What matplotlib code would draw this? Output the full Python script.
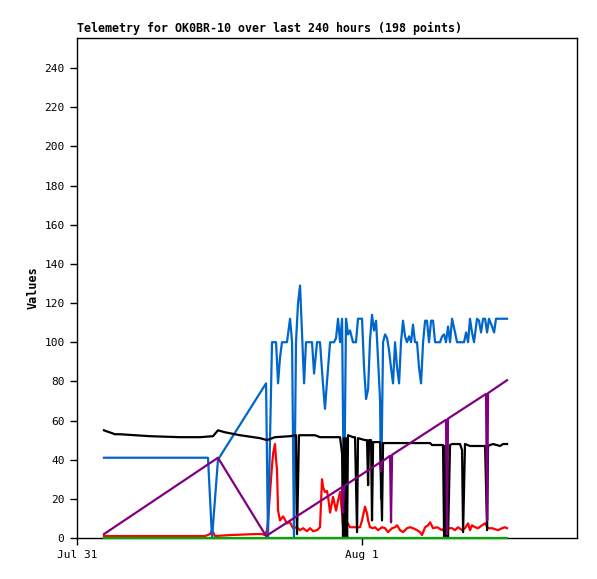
import matplotlib
matplotlib.use("Agg")
import matplotlib.pyplot as plt

# hours since Jul 31 00:00
blue_hours = [2.27, 11.03, 11.37, 11.87, 15.92, 16.08, 16.42, 16.76, 16.93, 17.09,
              17.26, 17.68, 17.94, 18.11, 18.27, 18.44, 18.61, 18.78, 18.95, 19.12,
              19.28, 19.79, 19.96, 20.21, 20.46, 20.72, 20.88, 21.05, 21.31, 21.64,
              21.81, 21.98, 22.15, 22.32, 22.48, 22.65, 22.82, 22.99, 23.24, 23.49,
              23.66, 24.00, 24.17, 24.34, 24.51, 24.67, 24.84, 25.01, 25.18, 25.35,
              25.52, 25.60, 25.77, 25.94, 26.11, 26.27, 26.44, 26.61, 26.78, 26.95,
              27.12, 27.28, 27.45, 27.62, 27.79, 27.96, 28.13, 28.29, 28.46, 28.63,
              28.80, 28.97, 29.14, 29.31, 29.47, 29.64, 29.81, 29.98, 30.15, 30.57,
              30.74, 30.91, 31.07, 31.24, 31.41, 31.58, 31.83, 32.00, 32.59, 32.76,
              32.93, 33.09, 33.26, 33.43, 33.68, 33.85, 34.02, 34.19, 34.36, 34.53,
              34.69, 34.95, 35.12, 35.28, 36.21]
blue_vals = [41, 41, 0, 40, 79, 0, 100, 100, 79, 92,
             100, 100, 112, 100, 0, 100, 120, 129, 104, 79,
             100, 100, 84, 100, 100, 78, 66, 80, 100, 100,
             102, 112, 100, 112, 10, 112, 104, 106, 100, 100,
             112, 112, 87, 71, 76, 101, 114, 106, 111, 91,
             70, 20, 100, 104, 102, 96, 87, 79, 100, 87,
             79, 100, 111, 103, 100, 103, 100, 109, 100, 100,
             87, 79, 100, 111, 111, 100, 111, 111, 100, 100,
             103, 104, 100, 108, 100, 112, 105, 100, 100, 105,
             100, 112, 105, 100, 112, 111, 105, 112, 112, 105,
             112, 108, 105, 112, 112]

black_hours = [2.27, 3.20, 3.62, 6.15, 8.67, 10.36, 11.45, 11.87, 12.46, 13.73,
               15.41, 16.00, 16.67, 17.94, 18.44, 18.53, 18.69, 20.04, 20.46, 22.15,
               22.32, 22.40, 22.48, 22.57, 22.65, 22.74, 22.82, 23.24, 23.41, 23.58,
               23.66, 24.25, 24.42, 24.51, 24.59, 24.76, 24.84, 24.93, 25.52, 25.68,
               25.77, 29.73, 29.89, 30.82, 30.91, 30.99, 31.07, 31.16, 31.24, 31.41,
               31.58, 32.25, 32.42, 32.51, 32.67, 33.09, 34.36, 34.53, 34.61, 34.78,
               35.03, 35.62, 35.87, 36.21]
black_vals = [55, 53, 53, 52, 51.5, 51.5, 52, 55, 54, 52.5,
              51, 50, 51.5, 52, 52.5, 2, 52.5, 52.5, 51.5, 51.5,
              43, 0, 51, 0, 51, 0, 52.5, 51.5, 51.5, 3,
              51, 50, 50, 27, 50, 50, 9, 49, 49, 9,
              48.5, 48.5, 47.5, 47.5, 0, 47, 0, 47, 0, 47.5,
              48, 48, 45, 3, 48, 47, 47, 4, 47, 47.5,
              48, 47, 48, 48]

red_hours = [2.27, 10.78, 11.20, 11.37, 11.62, 12.88, 14.99, 15.58, 15.83, 16.00,
             16.08, 16.42, 16.51, 16.67, 16.76, 16.84, 16.93, 17.09, 17.35, 17.68,
             17.94, 18.19, 18.53, 18.78, 19.03, 19.37, 19.62, 19.87, 20.21, 20.46,
             20.63, 20.72, 20.88, 21.05, 21.14, 21.31, 21.47, 21.56, 21.81, 21.98,
             22.15, 22.32, 22.40, 22.74, 22.99, 23.24, 23.58, 23.83, 24.00, 24.25,
             24.42, 24.51, 24.67, 24.93, 25.09, 25.35, 25.68, 25.94, 26.19, 26.53,
             26.78, 26.95, 27.20, 27.45, 27.79, 28.04, 28.29, 28.63, 28.88, 29.05,
             29.31, 29.56, 29.73, 29.98, 30.32, 30.74, 30.99, 31.24, 31.58, 31.83,
             32.08, 32.42, 32.67, 32.93, 33.09, 33.26, 33.52, 33.77, 34.11, 34.36,
             34.61, 34.95, 35.20, 35.45, 35.79, 36.04, 36.21]
red_vals = [1, 1, 2, 4, 1, 1.5, 2, 2, 1.5, 4,
            9, 37, 43, 48, 40, 35, 14, 9, 11, 7.5,
            8, 5, 5.5, 4, 5, 3.5, 5, 3.5, 4, 5.5,
            30, 26, 23.5, 24, 21, 13, 18, 21, 14, 19,
            23.5, 12.5, 6, 8, 5.5, 5.5, 5.5, 5.5, 9, 16,
            12.5, 9, 5.5, 5, 5.5, 4, 5.5, 5, 3, 5,
            5.5, 6.5, 4, 3, 5, 5.5, 5, 4, 3, 1.5,
            5.5, 6.5, 8, 5, 5.5, 4, 5.5, 5, 5, 4,
            5.5, 4, 5, 7.5, 4, 6.5, 5.5, 5, 6.5, 7.5,
            5, 5, 4.5, 4, 5, 5.5, 5]

purple_hours = [2.27, 11.87, 15.92, 22.32, 22.40, 22.48, 25.52, 25.60, 25.68, 26.36,
                26.44, 26.53, 31.07, 31.16, 31.24, 34.44, 34.53, 34.61, 36.21]
purple_vals = [2, 41, 1, 26, 13, 26.5, 38.6, 34, 39, 42,
               8, 42.5, 60.4, 2, 61, 73.6, 9, 74, 80.6]

green_hours = [2.27, 36.21]
green_vals = [0, 0]

x_ticks = [0, 24]
x_labels = ["Jul 31", "Aug 1"]
y_ticks = list(range(0, 241, 20))

plt.rcParams['font.family'] = ['DejaVu Sans Mono']

fig = plt.figure(figsize=(5.97, 5.79), dpi=100)
ax = fig.add_axes([77 / 597, 41 / 579, 500 / 597, 500 / 579])

lw = 1.6
ax.plot(red_hours, red_vals, color="#ff0000", lw=lw, zorder=2)
ax.plot(blue_hours, blue_vals, color="#0066cc", lw=lw, zorder=3)
ax.plot(black_hours, black_vals, color="#000000", lw=lw, zorder=4)
ax.plot(purple_hours, purple_vals, color="#800080", lw=lw, zorder=5)
ax.plot(green_hours, green_vals, color="#00aa00", lw=lw, zorder=6, clip_on=False)

ax.set_xlim(0, 42.1)
ax.set_ylim(0, 255.4)
ax.set_xticks(x_ticks)
ax.set_xticklabels(x_labels, fontsize=8)
ax.set_yticks(y_ticks)
ax.set_yticklabels([str(v) for v in y_ticks], fontsize=8)
ax.tick_params(direction="out", length=5, width=1, pad=4)

for s in ax.spines.values():
    s.set_linewidth(1)
    s.set_color("#000000")

ax.set_ylabel("Values", fontsize=8.5, fontweight="bold", labelpad=3)
fig.text(77 / 597, 1 - 32 / 579, "Telemetry for OK0BR-10 over last 240 hours (198 points)",
         fontsize=8.4, fontweight="bold", ha="left", va="baseline")

fig.savefig("out.png", dpi=100)
